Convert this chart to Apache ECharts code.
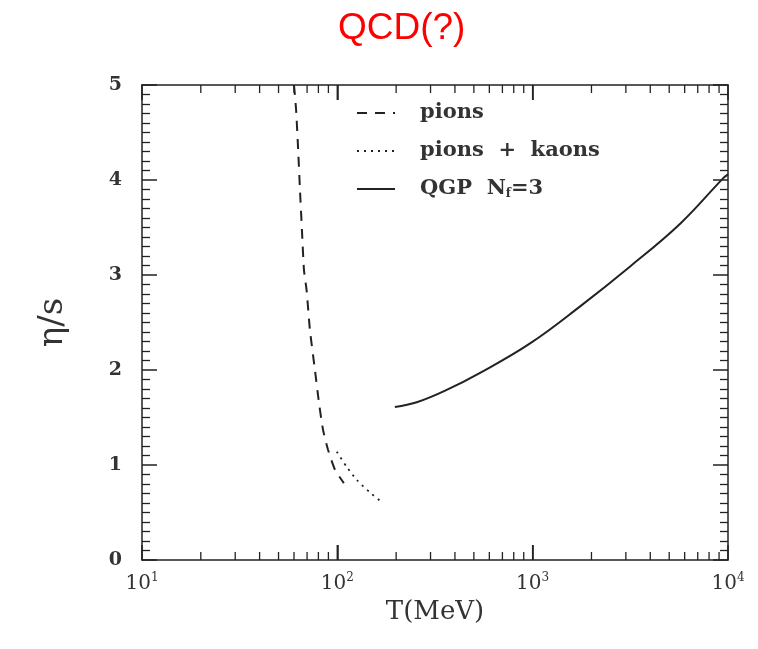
<!DOCTYPE html>
<html lang="en">
<head>
    <meta charset="UTF-8">
    <title>QCD(?)</title>
    <script src="https://cdn.jsdelivr.net/npm/echarts@6/dist/echarts.min.js"></script>
    <style>
        html, body { margin: 0; padding: 0; background: #fff; }
        #container { width: 758px; height: 649px; }
    </style>
</head>
<body>
<div id="container"></div>
<script type="text/javascript">
    // pions (dashed): [T in MeV, eta/s]
    let pions = [
        [60.0, 5.0], [61.5, 4.74], [63.0, 4.32], [64.4, 3.89], [65.9, 3.47], [67.5, 3.05],
        [69.6, 2.84], [72.4, 2.42], [76.8, 2.00], [80.6, 1.65], [84.5, 1.37], [89.6, 1.16],
        [97.3, 0.95], [108, 0.81]
    ];
    // pions + kaons (dotted)
    let pionsKaons = [
        [99.3, 1.14], [111.7, 0.98], [126, 0.84], [147, 0.71], [168.6, 0.61]
    ];
    // QGP Nf=3 (solid)
    let qgp = [
        [197, 1.61], [255, 1.66], [363, 1.79], [538, 1.97], [970, 2.28], [1750, 2.67],
        [3155, 3.09], [5690, 3.54], [9460, 4.02], [10000, 4.06]
    ];
    // T axis ticks (log scale): decades and the 2..9 minor ticks between them
    let majorTicksT = [100, 1000];
    let minorTicksT = [20, 30, 40, 50, 60, 70, 80, 90, 200, 300, 400, 500, 600, 700, 800, 900,
        2000, 3000, 4000, 5000, 6000, 7000, 8000, 9000];

    let serif = '"DejaVu Serif", "Liberation Serif", serif';
    let ink = '#222';

    let myChart = echarts.init(document.getElementById('container'));
    let tickLabel = function (value) {
        return '10{sup|' + Math.round(Math.log10(value)) + '}';
    };
    let frameAxis = function (extra) {
        return Object.assign({
            axisLine: { onZero: false, lineStyle: { color: ink, width: 1.5 } },
            axisTick: { show: true, inside: true, length: 15, lineStyle: { color: ink, width: 1.5 } },
            splitLine: { show: false }
        }, extra);
    };
    // ticks drawn on bottom and top edge of the frame
    let tickSeries = function (values, len, width) {
        return {
            type: 'custom', silent: true, clip: false, z: 3,
            data: values.map(function (v) { return [v, 0]; }),
            renderItem: function (params, api) {
                let x = api.coord([api.value(0), 0])[0];
                let top = params.coordSys.y;
                let bottom = params.coordSys.y + params.coordSys.height;
                let st = { stroke: ink, lineWidth: width };
                return {
                    type: 'group',
                    children: [
                        { type: 'line', shape: { x1: x, y1: bottom, x2: x, y2: bottom - len }, style: st },
                        { type: 'line', shape: { x1: x, y1: top, x2: x, y2: top + len }, style: st }
                    ]
                };
            }
        };
    };

    let option = {
        animation: false,
        title: {
            text: 'QCD(?)',
            left: 333,
            top: 5,
            textStyle: { color: '#ff0000', fontSize: 37, fontWeight: 'normal', fontFamily: '"Liberation Sans", Arial, sans-serif' }
        },
        legend: {
            orient: 'vertical',
            left: 351,
            top: 97,
            itemWidth: 38,
            itemHeight: 14,
            itemGap: 16,
            itemStyle: { opacity: 0 },
            data: ['pions', 'pions + kaons', 'QGP Nf=3'],
            formatter: function (name) {
                if (name === 'QGP Nf=3') return 'QGP  N{sub|f}=3';
                if (name === 'pions + kaons') return 'pions  +  kaons';
                return name;
            },
            textStyle: {
                fontFamily: serif, fontSize: 21, fontWeight: 'bold', color: '#333', lineHeight: 22,
                padding: [0, 0, 0, 20],
                rich: { sub: { fontFamily: serif, fontSize: 12, fontWeight: 'bold', color: '#333', lineHeight: 22, padding: [10, 0, 0, 0] } }
            }
        },
        grid: { left: 142, right: 30, top: 85, bottom: 89 },
        xAxis: [
            frameAxis({
                type: 'log', logBase: 10, min: 10, max: 10000,
                name: 'T(MeV)', nameLocation: 'middle', nameGap: 29,
                nameTextStyle: { fontFamily: serif, fontSize: 26, color: '#333' },
                axisLabel: {
                    formatter: tickLabel, margin: 12, color: '#333', fontFamily: serif, fontSize: 20,
                    rich: { sup: { fontFamily: serif, fontSize: 12, color: '#333', padding: [0, 0, 12, 0] } }
                }
            }),
            frameAxis({
                type: 'log', logBase: 10, min: 10, max: 10000, position: 'top',
                axisLabel: { show: false }
            })
        ],
        yAxis: [
            frameAxis({
                type: 'value', min: 0, max: 5, interval: 1,
                name: 'η/s', nameLocation: 'middle', nameGap: 72, nameRotate: 90,
                nameTextStyle: { fontFamily: serif, fontSize: 34, color: '#333' },
                minorTick: { show: true, splitNumber: 10, length: 8, lineStyle: { color: ink, width: 1.3 } },
                axisLabel: { margin: 20, color: '#333', fontFamily: serif, fontSize: 19, fontWeight: 'bold' }
            }),
            frameAxis({
                type: 'value', min: 0, max: 5, interval: 1, position: 'right',
                minorTick: { show: true, splitNumber: 10, length: 8, lineStyle: { color: ink, width: 1.3 } },
                axisLabel: { show: false }
            })
        ],
        series: [
            {
                name: 'pions', type: 'line', data: pions, symbol: 'none', smooth: 0.2,
                lineStyle: { color: ink, width: 2, type: [10, 8] }, itemStyle: { color: ink }
            },
            {
                name: 'pions + kaons', type: 'line', data: pionsKaons, symbol: 'none', smooth: 0.2,
                lineStyle: { color: ink, width: 1.8, type: [2, 5] }, itemStyle: { color: ink }
            },
            {
                name: 'QGP Nf=3', type: 'line', data: qgp, symbol: 'none', smooth: 0.4,
                lineStyle: { color: ink, width: 2 }, itemStyle: { color: ink }
            },
            tickSeries(majorTicksT, 15, 1.5),
            tickSeries(minorTicksT, 8, 1.3)
        ]
    };
    myChart.setOption(option);
</script>
</body>
</html>
